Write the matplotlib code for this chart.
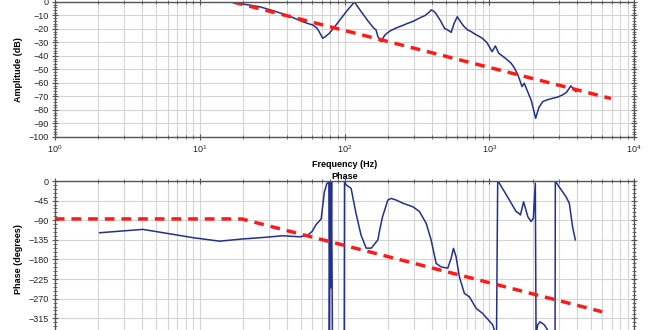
import matplotlib
matplotlib.use("Agg")
import matplotlib.pyplot as plt
from matplotlib.ticker import LogLocator, MultipleLocator, NullFormatter

plt.rcParams['font.family'] = ['Liberation Sans', 'DejaVu Sans']

### measured amplitude response ###
amp_f = [16.9, 20.5, 25.9, 32, 39.6, 45, 51.5, 56, 60.3, 64, 66, 70.7, 74, 78.6, 83, 87.5,
         95, 105, 112, 117, 130, 145, 158, 165, 170, 179, 185, 190, 200, 210, 225, 239,
         255, 270, 290, 311, 335, 360, 380, 397, 412, 427, 460, 490, 520, 545, 570, 600,
         635, 670, 708, 750, 800, 850, 894, 960, 1045, 1100, 1160, 1230, 1300, 1413, 1490,
         1573, 1680, 1740, 1830, 1940, 2010, 2085, 2200, 2338, 2500, 2731, 2950, 3190,
         3400, 3650, 3800, 3960]
amp_db = [0, -1.8, -3.5, -6.4, -9.6, -12, -14.6, -16, -17, -19, -21, -26.9, -25.5, -23.2,
          -20, -17, -12, -5.9, -2.5, 0, -7, -14, -19, -20.7, -25.7, -29.4, -26.5, -24.5,
          -22.5, -21, -19.5, -18.3, -17.2, -16, -14.8, -13.3, -11.5, -10, -8, -5.9, -6.8,
          -8.4, -14, -19.5, -21, -22.5, -16, -10.9, -15, -18.3, -20.7, -22, -24, -25.5,
          -26.9, -30, -36.8, -32.6, -38, -40, -42, -45.4, -49, -54, -62.7, -60.2, -66,
          -72.6, -79, -86.2, -78, -73.8, -72.5, -71.4, -70.5, -68.9, -67, -62.2, -64.5,
          -66.4]

### asymptote ###
amp_fit_f = [17, 6900]
amp_fit_db = [0, -71.5]

### measured phase (wrapped to -360..0) ###
ph_f = [2.04, 4.06, 9, 13.7, 19.8, 28.8, 37.5, 49, 55.5, 60, 63.3, 69, 72.6, 75.5, 78,
        78.6, 79.6, 80.4, 81.4, 82.5, 95, 99.5, 100, 102.7, 111, 120, 130, 141,
        153, 170, 174, 183, 199, 210, 227, 253, 296, 329, 366, 396, 429, 464, 516, 544,
        565, 589, 621, 672, 728, 809, 899, 1054, 1082, 1120, 1141, 1172, 1374, 1528,
        1595, 1638, 1722, 1843, 1940, 2011, 2075, 2099, 2153, 2238, 2395, 2523, 2700,
        2840, 2852, 2912, 3378, 3562, 3751, 3918]
ph_deg = [-118.7, -111, -130, -138, -133, -129, -125.6, -128, -125, -115, -101, -87, -25,
          -6, -3, -358, -2, -245, -2, -359, -359, -359, -2, -9, -17, -74, -124,
          -154, -154, -135, -116, -82, -43.6, -40, -43.6, -51, -59, -70, -97, -135, -189,
          -197, -200, -177.5, -154.5, -174, -220, -258, -265.6, -292, -304, -330, -342,
          -352, -2, -5, -43.6, -70, -74, -78, -47.7, -82, -93, -85.6, -5, -355, -330,
          -323, -330, -342, -358, -359, -2, -5, -36, -51, -105, -135]

ph_fit_f = [1, 19.5, 6000]
ph_fit_deg = [-87, -87, -300]

ph_ticks = [0, -45, -90, -135, -180, -225, -270, -315]

blue = '#22308f'
red = '#ff1a1a'
gridc = '#d4d4d4'
spinec = '#555555'

fig = plt.figure(figsize=(6.6, 3.3), dpi=100)
ax1 = fig.add_axes([0.083, 0.585, 0.878, 0.409])
ax2 = fig.add_axes([0.083, -0.024, 0.878, 0.4755])

for ax in (ax1, ax2):
    ax.set_xscale('log')
    ax.set_xlim(1, 1e4)
    ax.xaxis.set_major_locator(LogLocator(base=10, numticks=10))
    ax.xaxis.set_minor_locator(LogLocator(base=10, subs=range(2, 10), numticks=10))
    ax.xaxis.set_minor_formatter(NullFormatter())
    ax.grid(True, which='major', color=gridc, lw=0.8)
    ax.grid(True, which='minor', axis='x', color=gridc, lw=0.8)
    ax.set_axisbelow(True)
    for s in ax.spines.values():
        s.set_color(spinec)
        s.set_linewidth(1.0)
    ax.tick_params(which='both', direction='inout', top=True, right=True,
                   colors=spinec, labelcolor='#222222', labelsize=6.5, pad=2)
    ax.tick_params(which='major', length=5)
    ax.tick_params(which='minor', length=3)

ax1.plot(amp_f, amp_db, color=blue, lw=1.1)
ax1.plot(amp_fit_f, amp_fit_db, color=red, lw=2.5, dashes=(2.8, 2))
ax1.set_ylim(-100, 0)
ax1.yaxis.set_major_locator(MultipleLocator(10))
ax1.yaxis.set_minor_locator(MultipleLocator(2))
ax1.set_ylabel('Amplitude (dB)', fontsize=6.5, fontweight='bold', labelpad=4)
ax1.set_xlabel('Frequency (Hz)', fontsize=6.5, fontweight='bold', labelpad=4)

ax2.plot(ph_f, ph_deg, color=blue, lw=1.1)
ax2.plot(ph_fit_f, ph_fit_deg, color=red, lw=2.5, dashes=(2.8, 2))
ax2.set_ylim(-360, 0)
ax2.set_yticks(ph_ticks)
ax2.yaxis.set_minor_locator(MultipleLocator(9))
ax2.tick_params(labelbottom=False)
ax2.set_ylabel('Phase (degrees)', fontsize=6.5, fontweight='bold', labelpad=4)
ax2.set_title('Phase', fontsize=6.5, fontweight='bold', pad=1.5)

fig.savefig('out.png', dpi=100)
